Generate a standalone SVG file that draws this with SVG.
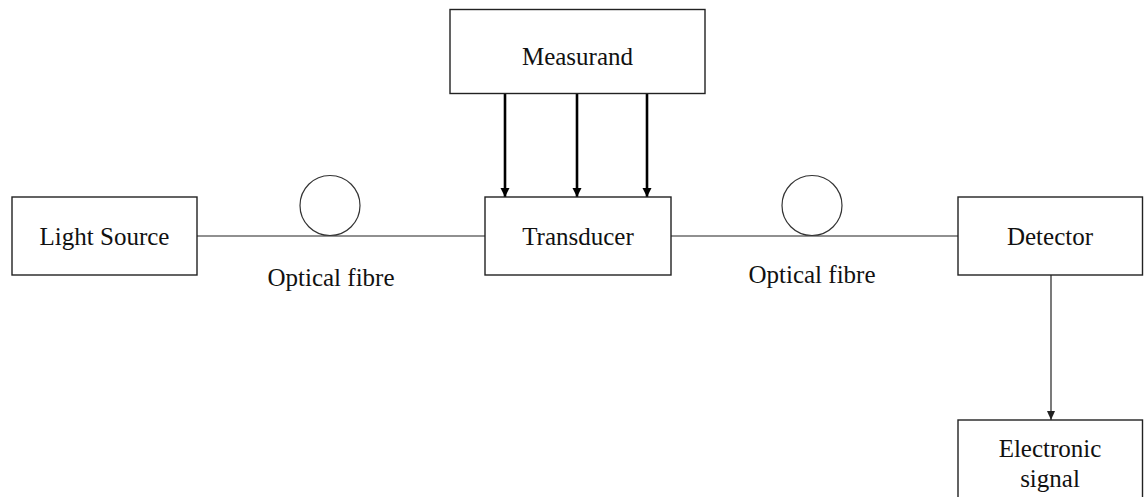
<svg xmlns="http://www.w3.org/2000/svg" width="1144" height="497" viewBox="0 0 1144 497">
  <style>
    .box { fill: #ffffff; stroke: #222222; stroke-width: 1.4; }
    .lbl { font-family: "Liberation Serif", "Times New Roman", serif; font-size: 25px; fill: #111111; text-anchor: middle; }
    .wire { stroke: #222222; stroke-width: 1.2; fill: none; }
    .arrow { stroke: #000000; stroke-width: 2.6; fill: none; }
    .coil { fill: #ffffff; stroke: #333333; stroke-width: 1.2; }
  </style>
  <defs>
    <marker id="ah" markerWidth="10" markerHeight="10" refX="9" refY="5" orient="auto" markerUnits="userSpaceOnUse">
      <path d="M0,0.5 L9,5 L0,9.5 Z" fill="#000000"/>
    </marker>
    <marker id="ahs" markerWidth="10" markerHeight="10" refX="9" refY="5" orient="auto" markerUnits="userSpaceOnUse">
      <path d="M0,1 L9,5 L0,9 Z" fill="#222222"/>
    </marker>
  </defs>

  <g id="connectors">
    <line class="wire" x1="197" y1="236" x2="485" y2="236"/>
    <line class="wire" x1="671" y1="236" x2="958" y2="236"/>
    <line class="arrow" x1="505" y1="94" x2="505" y2="197" marker-end="url(#ah)"/>
    <line class="arrow" x1="577" y1="94" x2="577" y2="197" marker-end="url(#ah)"/>
    <line class="arrow" x1="647" y1="94" x2="647" y2="197" marker-end="url(#ah)"/>
    <line class="wire" x1="1051" y1="275" x2="1051" y2="420" marker-end="url(#ahs)"/>
  </g>

  <g id="fibre1">
    <circle class="coil" cx="330" cy="205.5" r="30"/>
    <text class="lbl" x="331" y="286">Optical fibre</text>
  </g>

  <g id="fibre2">
    <circle class="coil" cx="812" cy="205.5" r="30"/>
    <text class="lbl" x="812" y="283">Optical fibre</text>
  </g>

  <g id="measurand">
    <rect class="box" x="450" y="9.5" width="255" height="84"/>
    <text class="lbl" x="577.5" y="65">Measurand</text>
  </g>

  <g id="light-source">
    <rect class="box" x="12" y="197" width="185" height="78"/>
    <text class="lbl" x="104.5" y="245">Light Source</text>
  </g>

  <g id="transducer">
    <rect class="box" x="485" y="197" width="186" height="78"/>
    <text class="lbl" x="578" y="245">Transducer</text>
  </g>

  <g id="detector">
    <rect class="box" x="958" y="197" width="184.5" height="78"/>
    <text class="lbl" x="1050" y="245">Detector</text>
  </g>

  <g id="electronic-signal">
    <rect class="box" x="958" y="420" width="184.5" height="90"/>
    <text class="lbl" x="1050" y="457">Electronic</text>
    <text class="lbl" x="1050" y="487">signal</text>
  </g>
</svg>
